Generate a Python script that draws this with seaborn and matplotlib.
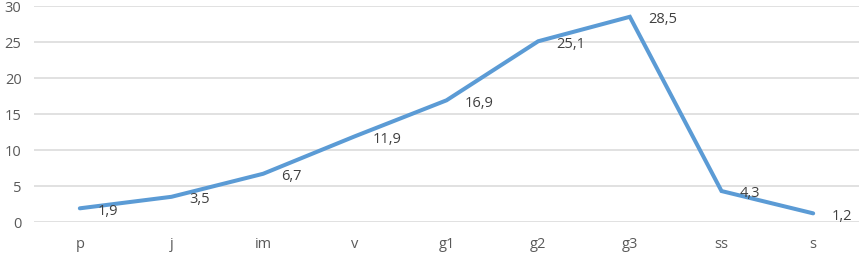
import matplotlib
matplotlib.use("Agg")
import matplotlib.pyplot as plt
import seaborn as sns
import pandas as pd

categories = ["p", "j", "im", "v", "g1", "g2", "g3", "ss", "s"]
values = [1.9, 3.5, 6.7, 11.9, 16.9, 25.1, 28.5, 4.3, 1.2]
yticks = [0, 5, 10, 15, 20, 25, 30]

sns.set_theme(style="white")
plt.rcParams['font.family'] = ['Open Sans', 'DejaVu Sans']

df = pd.DataFrame({"cat": categories, "val": values})
fig = plt.figure(figsize=(8.59, 2.56), dpi=100)
ax = fig.add_axes([34/859, 34/256, 1 - 34/859, 216/256])

ax.set_ylim(0, 30)
ax.set_yticks(yticks)
ax.yaxis.grid(True, color="#D9D9D9", linewidth=1.1)
ax.set_axisbelow(True)

sns.lineplot(data=df, x="cat", y="val", ax=ax, color="#5B9BD5", linewidth=2.9,
             sort=False, solid_joinstyle="miter")
ax.set_xlim(-0.5, len(categories) - 0.5)

for i, v in enumerate(values):
    ax.annotate(f"{v:.1f}".replace(".", ","), (i, v), xytext=(13, -2),
                textcoords="offset points", ha="left", va="center",
                fontsize=10.5, color="#404040")

for s in ax.spines.values():
    s.set_visible(False)
ax.set_xlabel("")
ax.set_ylabel("")
ax.tick_params(axis="both", length=0, labelsize=10.5, colors="#595959")
ax.tick_params(axis="x", pad=11)
ax.tick_params(axis="y", pad=9)
ax.set_yticklabels([str(t) for t in yticks])

fig.savefig("out.png", dpi=100)
